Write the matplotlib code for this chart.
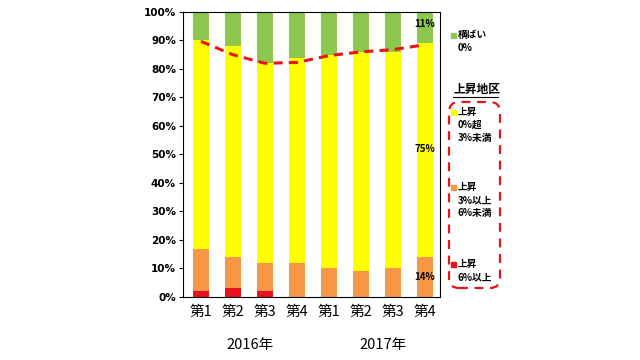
import numpy as np
import matplotlib
matplotlib.use("Agg")
import matplotlib.pyplot as plt
from matplotlib.patches import FancyBboxPatch, Rectangle
from matplotlib.lines import Line2D
from matplotlib.transforms import IdentityTransform

plt.rcParams['font.family'] = ['Noto Sans CJK JP', 'DejaVu Sans']

quarters = ['第1', '第2', '第3', '第4', '第1', '第2', '第3', '第4']
years = ['2016年', '2017年']
# 上昇 6%以上 / 3%以上6%未満 / 0%超3%未満 / 横ばい (share %)
up6 = [2, 3, 2, 0, 0, 0, 0, 0]
up3_6 = [15, 11, 10, 12, 10, 9, 10, 14]
up0_3 = [73, 74, 70, 72, 75, 77, 76, 75]
flat = [10, 12, 18, 16, 15, 14, 14, 11]
line_vals = [89.7, 85.0, 82.0, 82.3, 84.7, 86.0, 86.8, 88.5]

c_red = '#E8141B'
c_orange = '#F79646'
c_yellow = '#FFFF00'
c_green = '#8CC84B'

fig = plt.figure(figsize=(6.4, 3.6), dpi=100)
ax = fig.add_axes([0.286, 0.175, 0.4016, 0.7917])

x = np.arange(len(quarters))
w = 0.5
b1 = np.array(up6)
b2 = b1 + np.array(up3_6)
b3 = b2 + np.array(up0_3)
ax.bar(x, up6, w, color=c_red)
ax.bar(x, up3_6, w, bottom=b1, color=c_orange)
ax.bar(x, up0_3, w, bottom=b2, color=c_yellow)
ax.bar(x, flat, w, bottom=b3, color=c_green)
ax.plot(x, line_vals, color=c_red, linestyle=(0, (3, 2)), linewidth=2.2)

ax.set_xlim(-0.56, 7.47)
ax.set_ylim(0, 100)
ax.set_yticks(np.arange(0, 101, 10))
ax.set_yticklabels([f'{v}%' for v in range(0, 101, 10)], fontsize=7.5, fontweight='bold',
                   family='DejaVu Sans')
ax.set_xticks(x)
ax.set_xticklabels(quarters, fontsize=10.5)
ax.tick_params(axis='y', length=3, width=0.8, pad=2)
ax.tick_params(axis='x', length=0, pad=6)
for s in ax.spines.values():
    s.set_linewidth(0.8)

# value labels on last bar
last = len(x) - 1
ax.text(x[last], b3[last] + flat[last] / 2 + 1.3, f'{flat[last]}%', ha='center', va='center',
        fontsize=7, fontweight='bold')
ax.text(x[last], 52, f'{up0_3[last]}%', ha='center', va='center', fontsize=7, fontweight='bold')
ax.text(x[last], 7, f'{up6[last] + up3_6[last]}%', ha='center', va='center', fontsize=7,
        fontweight='bold')

# year labels
fig.text(250 / 640, 1 - 345 / 360, years[0], ha='center', va='center', fontsize=10.5)
fig.text(383 / 640, 1 - 345 / 360, years[1], ha='center', va='center', fontsize=10.5)

# legend (positions in pixels from top-left)
def fy(py):
    return 1 - py / 360

def fx(px):
    return px / 640

def legend_entry(px, py, color, lines):
    fig.patches.append(Rectangle((fx(px), fy(py + 2.5)), 5 / 640, 5 / 360, color=color,
                                 transform=fig.transFigure))
    for i, t in enumerate(lines):
        fig.text(fx(px + 7), fy(py + 13 * i), t, ha='left', va='center',
                 fontsize=7, fontweight='bold')

legend_entry(451, 35, c_green, ['横ばい', '0%'])
fig.text(fx(454), fy(89), '上昇地区', ha='left', va='center', fontsize=8.5, fontweight='bold')
fig.lines.append(Line2D([fx(453), fx(498)], [fy(97), fy(97)], color='black', linewidth=0.8,
                        transform=fig.transFigure))
legend_entry(451, 112, c_yellow, ['上昇', '0%超', '3%未満'])
legend_entry(451, 187, c_orange, ['上昇', '3%以上', '6%未満'])
legend_entry(451, 264, c_red, ['上昇', '6%以上'])

box = FancyBboxPatch((449, 360 - 288), 51, 186,
                     boxstyle='round,pad=0,rounding_size=10', transform=IdentityTransform(),
                     fill=False, edgecolor=c_red, linestyle=(0, (4, 3)), linewidth=1.6)
fig.patches.append(box)

fig.savefig('out.png', dpi=100)
